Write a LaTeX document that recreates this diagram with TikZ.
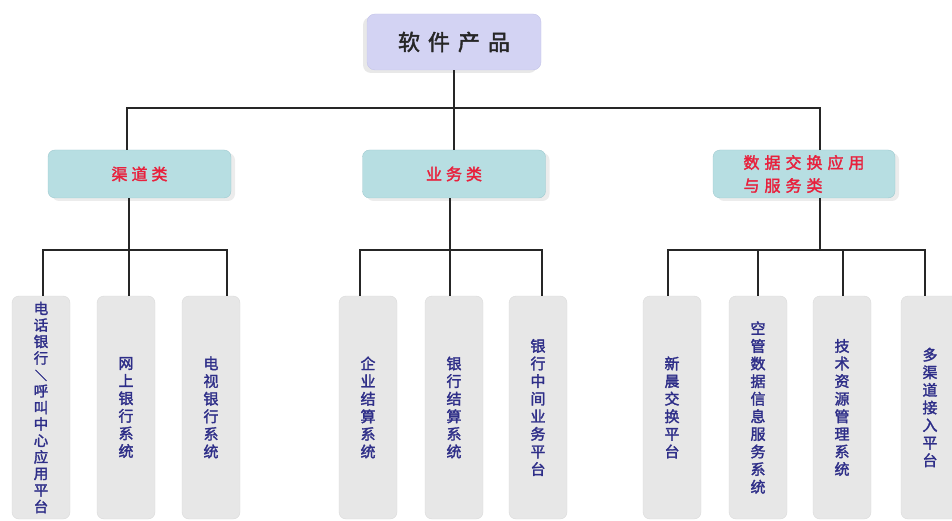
\documentclass[tikz,border=0pt]{standalone}
\usepackage{fontspec}
\newfontfamily\cjkb[FakeBold=2]{Noto Sans CJK SC}
\usetikzlibrary{shadows}
\definecolor{topfill}{HTML}{D3D3F3}
\definecolor{topline}{HTML}{C4C4E8}
\definecolor{midfill}{HTML}{B7DEE2}
\definecolor{midline}{HTML}{9FC9CF}
\definecolor{leaffill}{HTML}{E7E7E7}
\definecolor{leafline}{HTML}{DADADA}
\definecolor{redtxt}{HTML}{E8203C}
\definecolor{navytxt}{HTML}{2E2E88}
\newcommand\gapT{\hspace{8pt}}
\newcommand\gapM{\hspace{4pt}}
\begin{document}
\begin{tikzpicture}[x=1pt,y=-1pt,
  conn/.style={draw=black!85, line width=1.6pt},
  topbox/.style={rounded corners=8pt, fill=topfill, draw=topline, minimum width=174pt, minimum height=56pt,
    font=\cjkb\fontsize{22}{24}\selectfont, text=black!85,
    drop shadow={shadow xshift=-4pt, shadow yshift=-3pt, opacity=0.18}},
  midbox/.style={rounded corners=7pt, fill=midfill, draw=midline, minimum width=183pt, minimum height=48pt,
    text=redtxt, font=\cjkb\fontsize{16}{23}\selectfont, align=left,
    drop shadow={shadow xshift=4pt, shadow yshift=-3pt, opacity=0.15}},
  leaf/.style={rounded corners=7pt, fill=leaffill, draw=leafline, minimum width=58pt, minimum height=223pt,
    text=navytxt, font=\cjkb\fontsize{15}{17.6}\selectfont, align=center, inner sep=0pt}
]
\useasboundingbox (0,0) rectangle (952,521);

% top
\node[topbox] (top) at (454,42) {软\gapT 件\gapT 产\gapT 品};

% middle
\node[midbox] (m1) at (139.5,174) {渠\gapM 道\gapM 类};
\node[midbox] (m2) at (454,174) {业\gapM 务\gapM 类};
\node[midbox, minimum width=182pt] (m3) at (804,174)
  {数\hspace{5pt}据\hspace{5pt}交\hspace{5pt}换\hspace{5pt}应\hspace{5pt}用\\与\hspace{5pt}服\hspace{5pt}务\hspace{5pt}类};

% leaves
\node[leaf, font=\cjkb\fontsize{14.5}{16.5}\selectfont] (l11) at (41,407.5) {电\\话\\银\\行\\{\fontsize{12}{12}\selectfont ＼}\\呼\\叫\\中\\心\\应\\用\\平\\台};
\node[leaf] (l12) at (126,407.5) {网\\上\\银\\行\\系\\统};
\node[leaf] (l13) at (211,407.5) {电\\视\\银\\行\\系\\统};

\node[leaf] (l21) at (368,407.5) {企\\业\\结\\算\\系\\统};
\node[leaf] (l22) at (454,407.5) {银\\行\\结\\算\\系\\统};
\node[leaf] (l23) at (538,407.5) {银\\行\\中\\间\\业\\务\\平\\台};

\node[leaf] (l31) at (672,407.5) {新\\晨\\交\\换\\平\\台};
\node[leaf] (l32) at (758,407.5) {空\\管\\数\\据\\信\\息\\服\\务\\系\\统};
\node[leaf] (l33) at (842,407.5) {技\\术\\资\\源\\管\\理\\系\\统};
\node[leaf] (l34) at (930,407.5) {多\\渠\\道\\接\\入\\平\\台};

% level 1 connectors
\coordinate (bL) at (127,108);
\coordinate (bR) at (820,108);
\draw[conn] (top.south) -- (m2.north);
\draw[conn] (m1.north -| bL) -- (bL) -- (bR) -- (m3.north -| bR);

% group 1
\coordinate (d11) at (43,250);
\coordinate (d12) at (129,250);
\coordinate (d13) at (227,250);
\draw[conn] (m1.south -| d12) -- (d12);
\draw[conn] (l11.north -| d11) -- (d11) -- (d13) -- (l13.north -| d13);
\draw[conn] (d12) -- (l12.north -| d12);

% group 2
\coordinate (d21) at (360,250);
\coordinate (d22) at (450,250);
\coordinate (d23) at (542,250);
\draw[conn] (m2.south -| d22) -- (d22);
\draw[conn] (l21.north -| d21) -- (d21) -- (d23) -- (l23.north -| d23);
\draw[conn] (d22) -- (l22.north -| d22);

% group 3
\coordinate (t3) at (820,250);
\coordinate (d31) at (668,250);
\coordinate (d32) at (758,250);
\coordinate (d33) at (843,250);
\coordinate (d34) at (925,250);
\draw[conn] (m3.south -| t3) -- (t3);
\draw[conn] (l31.north -| d31) -- (d31) -- (d34) -- (l34.north -| d34);
\draw[conn] (d32) -- (l32.north -| d32);
\draw[conn] (d33) -- (l33.north -| d33);
\end{tikzpicture}
\end{document}
